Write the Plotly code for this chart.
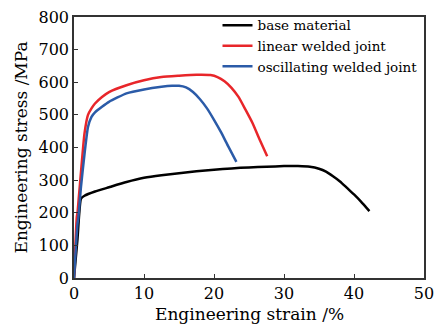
import plotly.graph_objects as go

base_strain = [0, 0.5, 1.0, 1.5, 3, 5, 7.5, 10, 12.5, 15, 17.5, 20, 22.5, 25, 27.5, 30, 32, 33.7, 35, 36, 37, 38, 39, 40, 41, 42.2]
base_stress = [0, 120, 243, 252, 265, 278, 294, 307, 315, 321, 327, 332, 336, 339, 341, 343, 343, 341, 335, 326, 312, 296, 276, 256, 234, 205]

lin_strain = [0, 0.4, 0.5, 0.7, 1.0, 1.5, 2.0, 2.5, 3, 4, 5, 7.5, 10, 12.5, 15, 17.5, 19.5, 20.5, 21.5, 22.5, 23.5, 24.5, 25.5, 26.5, 27.6]
lin_stress = [0, 187, 200, 250, 325, 443, 500, 520, 535, 555, 570, 591, 606, 616, 620, 623, 622, 616, 603, 583, 555, 516, 475, 425, 373]

osc_strain = [0, 0.5, 0.6, 1.0, 1.5, 2.0, 2.5, 3, 4, 5, 7.5, 10, 12.5, 14, 15, 16, 17, 18, 19, 20, 21, 22, 23.2]
osc_stress = [0, 167, 180, 280, 380, 463, 494, 508, 525, 540, 566, 578, 586, 589, 589, 584, 570, 548, 520, 485, 447, 405, 356]

names = ["base material", "linear welded joint", "oscillating welded joint"]
colors = ["#000000", "#e8262a", "#2b5ba8"]

x_ticks = [0, 10, 20, 30, 40, 50]
y_ticks = [0, 100, 200, 300, 400, 500, 600, 700, 800]
x_title = "Engineering strain /%"
y_title = "Engineering stress /MPa"

FONT = "DejaVu Serif"

fig = go.Figure()
for xs, ys, n, c in zip([base_strain, lin_strain, osc_strain],
                        [base_stress, lin_stress, osc_stress], names, colors):
    fig.add_trace(go.Scatter(x=xs, y=ys, mode="lines", name=n,
                             line=dict(color=c, width=2.5, shape="spline", smoothing=0.5)))

axis_common = dict(showgrid=False, zeroline=False, showline=True, linecolor="#333333",
                   linewidth=1.5, mirror=True, ticks="inside", ticklen=4, tickwidth=1.2,
                   tickcolor="#333333", automargin=False,
                   tickfont=dict(family=FONT, size=16, color="black"))

fig.update_xaxes(range=[0, 50], tickvals=x_ticks, **axis_common)
fig.update_yaxes(range=[0, 800], tickvals=y_ticks, **axis_common)

fig.add_annotation(text=x_title, xref="paper", yref="paper", x=0.5, y=0, yshift=-36,
                   xanchor="center", yanchor="middle", showarrow=False,
                   font=dict(family=FONT, size=17, color="black"))
fig.add_annotation(text=y_title, xref="paper", yref="paper", x=0, y=0.5, xshift=-54,
                   xanchor="center", yanchor="middle", showarrow=False, textangle=-90,
                   font=dict(family=FONT, size=17, color="black"))

fig.update_layout(
    width=446, height=326,
    margin=dict(l=74, r=22, t=17, b=48, autoexpand=False),
    paper_bgcolor="white", plot_bgcolor="white",
    font=dict(family=FONT, color="black"),
    legend=dict(x=0.41, y=1.027, xanchor="left", yanchor="top", bgcolor="rgba(0,0,0,0)",
                font=dict(family=FONT, size=13.5, color="black"), itemwidth=30,
                tracegroupgap=0),
)

fig.write_html("out.html", config={"displayModeBar": False},
               post_script="document.body.style.margin='0';document.body.style.overflow='hidden';")
